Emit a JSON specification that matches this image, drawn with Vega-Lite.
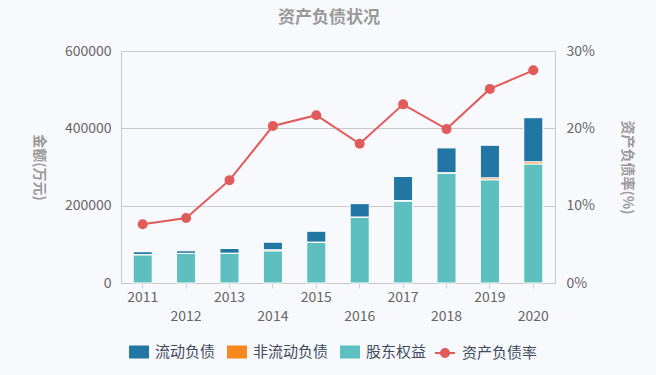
{
  "$schema": "https://vega.github.io/schema/vega-lite/v6.json",
  "autosize": {"type": "none"},
  "padding": {"left": 121, "top": 51, "right": 101, "bottom": 92},
  "width": 434,
  "height": 232,
  "background": "#f8f9fc",
  "title": {"text": "资产负债状况", "fontSize": 17, "fontWeight": "bold", "color": "#999999", "offset": 17, "dx": -9, "font": "Noto Sans CJK SC"},
  "datasets": {
    "bars": [
      {"year": "2011", "type": "股东权益", "k": 1, "value": 73000},
      {"year": "2011", "type": "非流动负债", "k": 2, "value": 500},
      {"year": "2011", "type": "流动负债", "k": 3, "value": 7200},
      {"year": "2012", "type": "股东权益", "k": 1, "value": 76400},
      {"year": "2012", "type": "非流动负债", "k": 2, "value": 400},
      {"year": "2012", "type": "流动负债", "k": 3, "value": 6500},
      {"year": "2013", "type": "股东权益", "k": 1, "value": 76400},
      {"year": "2013", "type": "非流动负债", "k": 2, "value": 800},
      {"year": "2013", "type": "流动负债", "k": 3, "value": 12100},
      {"year": "2014", "type": "股东权益", "k": 1, "value": 83300},
      {"year": "2014", "type": "非流动负债", "k": 2, "value": 2500},
      {"year": "2014", "type": "流动负债", "k": 3, "value": 19800},
      {"year": "2015", "type": "股东权益", "k": 1, "value": 105000},
      {"year": "2015", "type": "非流动负债", "k": 2, "value": 800},
      {"year": "2015", "type": "流动负债", "k": 3, "value": 28100},
      {"year": "2016", "type": "股东权益", "k": 1, "value": 170000},
      {"year": "2016", "type": "非流动负债", "k": 2, "value": 800},
      {"year": "2016", "type": "流动负债", "k": 3, "value": 34400},
      {"year": "2017", "type": "股东权益", "k": 1, "value": 212000},
      {"year": "2017", "type": "非流动负债", "k": 2, "value": 1200},
      {"year": "2017", "type": "流动负债", "k": 3, "value": 62300},
      {"year": "2018", "type": "股东权益", "k": 1, "value": 284000},
      {"year": "2018", "type": "非流动负债", "k": 2, "value": 1200},
      {"year": "2018", "type": "流动负债", "k": 3, "value": 64200},
      {"year": "2019", "type": "股东权益", "k": 1, "value": 267000},
      {"year": "2019", "type": "非流动负债", "k": 2, "value": 5000},
      {"year": "2019", "type": "流动负债", "k": 3, "value": 84200},
      {"year": "2020", "type": "股东权益", "k": 1, "value": 308000},
      {"year": "2020", "type": "非流动负债", "k": 2, "value": 5500},
      {"year": "2020", "type": "流动负债", "k": 3, "value": 114000}
    ],
    "rate": [
      {"year": "2011", "rate": 0.076},
      {"year": "2012", "rate": 0.084},
      {"year": "2013", "rate": 0.133},
      {"year": "2014", "rate": 0.203},
      {"year": "2015", "rate": 0.217},
      {"year": "2016", "rate": 0.180},
      {"year": "2017", "rate": 0.231},
      {"year": "2018", "rate": 0.199},
      {"year": "2019", "rate": 0.251},
      {"year": "2020", "rate": 0.275}
    ]
  },
  "layer": [
    {
      "data": {"name": "bars"},
      "mark": {"type": "bar", "stroke": "white", "strokeWidth": 1},
      "encoding": {
        "x": {
          "field": "year", "type": "ordinal",
          "scale": {"paddingInner": 0.56, "paddingOuter": 0.28},
          "axis": {
            "title": null, "labelAngle": 0, "labelFontSize": 14, "labelColor": "#666666",
            "labelPadding": 2, "tickSize": 5, "tickColor": "#c5d2e3", "domainColor": "#c8c8c8",
            "labelExpr": "toNumber(datum.value) % 2 == 0 ? ['', datum.label] : datum.label",
            "labelLineHeight": 19, "labelOverlap": false, "labelBaseline": "top", "grid": false
          }
        },
        "y": {
          "field": "value", "type": "quantitative", "stack": "zero",
          "scale": {"domain": [0, 600000]},
          "axis": {
            "title": "金额(万元)", "titleAngle": 90, "titleX": -83, "titleY": 116,
            "titleAlign": "center", "titleBaseline": "middle", "titleFontSize": 14,
            "titleFontWeight": "bold", "titleColor": "#999999",
            "values": [0, 200000, 400000, 600000], "format": "d",
            "labelFontSize": 14, "labelColor": "#666666", "labelPadding": 10,
            "ticks": false, "domain": false, "grid": true, "gridColor": "#c8c8c8", "gridWidth": 1
          }
        },
        "color": {
          "field": "type", "type": "nominal",
          "scale": {"domain": ["流动负债", "非流动负债", "股东权益"], "range": ["#2276a3", "#f7881f", "#5ebfc0"]},
          "legend": {
            "title": null, "orient": "none", "legendX": 8, "legendY": 291, "direction": "horizontal",
            "symbolType": "M-1,-0.65H1V0.65H-1Z", "symbolSize": 400, "symbolStrokeWidth": 0,
            "labelFontSize": 15, "labelColor": "#3d4b5c", "columnPadding": 11, "labelOffset": 6
          }
        },
        "order": {"field": "k", "type": "quantitative"}
      }
    },
    {
      "data": {"name": "rate"},
      "mark": {"type": "line", "strokeWidth": 2},
      "encoding": {
        "x": {"field": "year", "type": "ordinal"},
        "y": {
          "field": "rate", "type": "quantitative",
          "scale": {"domain": [0, 0.3]},
          "axis": {
            "orient": "right",
            "title": "资产负债率(%)", "titleAngle": 90, "titleX": 71, "titleY": 116,
            "titleAlign": "center", "titleBaseline": "middle", "titleFontSize": 14,
            "titleFontWeight": "bold", "titleColor": "#999999",
            "values": [0, 0.1, 0.2, 0.3], "format": ".0%",
            "labelFontSize": 14, "labelColor": "#666666", "labelPadding": 11,
            "ticks": false, "domain": false, "grid": false
          }
        },
        "stroke": {
          "datum": "资产负债率", "type": "nominal",
          "scale": {"range": ["#e15b5b"]},
          "legend": {
            "title": null, "orient": "none", "legendX": 313, "legendY": 291,
            "symbolType": "M-1,0H1M0.4,0A0.4,0.4,0,1,1,-0.4,0A0.4,0.4,0,1,1,0.4,0Z",
            "symbolSize": 400, "symbolStrokeWidth": 2, "symbolFillColor": "#e15b5b",
            "labelFontSize": 15, "labelColor": "#3d4b5c", "labelOffset": 6
          }
        }
      }
    },
    {
      "data": {"name": "rate"},
      "mark": {"type": "circle", "size": 100, "opacity": 1, "color": "#e15b5b"},
      "encoding": {
        "x": {"field": "year", "type": "ordinal"},
        "y": {"field": "rate", "type": "quantitative", "scale": {"domain": [0, 0.3]}, "axis": null}
      }
    }
  ],
  "resolve": {"scale": {"y": "independent"}},
  "config": {
    "font": "Noto Sans CJK SC",
    "view": {"stroke": "#c8c8c8", "strokeWidth": 1},
    "axis": {"labelFont": "Noto Sans CJK SC", "titleFont": "Noto Sans CJK SC"},
    "legend": {"labelFont": "Noto Sans CJK SC"}
  }
}
